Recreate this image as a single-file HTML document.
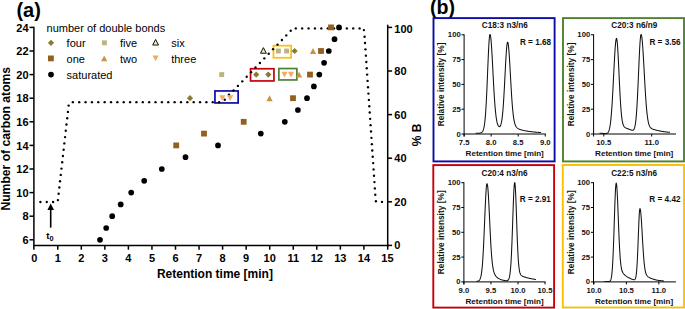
<!DOCTYPE html>
<html><head><meta charset="utf-8"><style>html,body{margin:0;padding:0;background:#fff;width:685px;height:309px;overflow:hidden}</style></head><body>
<svg width="685" height="309" viewBox="0 0 685 309" style="display:block;font-family:'Liberation Sans',sans-serif">
<rect width="685" height="309" fill="#fff"/>
<text x="16.4" y="16.8" font-size="20" font-weight="700">(a)</text>
<g stroke="#000" stroke-width="1.5" fill="none">
<path d="M33.9 26.65V249.70"/>
<path d="M33.15 245.4H388.45"/>
<path d="M387.7 24.7V249.70"/>
<path d="M29.50 239.80H33.9"/>
<path d="M29.50 216.20H33.9"/>
<path d="M29.50 192.60H33.9"/>
<path d="M29.50 169.00H33.9"/>
<path d="M29.50 145.40H33.9"/>
<path d="M29.50 121.80H33.9"/>
<path d="M29.50 98.20H33.9"/>
<path d="M29.50 74.60H33.9"/>
<path d="M29.50 51.00H33.9"/>
<path d="M29.50 27.40H33.9"/>
<path d="M57.75 245.4V249.70"/>
<path d="M81.30 245.4V249.70"/>
<path d="M104.85 245.4V249.70"/>
<path d="M128.40 245.4V249.70"/>
<path d="M151.95 245.4V249.70"/>
<path d="M175.50 245.4V249.70"/>
<path d="M199.05 245.4V249.70"/>
<path d="M222.60 245.4V249.70"/>
<path d="M246.15 245.4V249.70"/>
<path d="M269.70 245.4V249.70"/>
<path d="M293.25 245.4V249.70"/>
<path d="M316.80 245.4V249.70"/>
<path d="M340.35 245.4V249.70"/>
<path d="M363.90 245.4V249.70"/>
<path d="M387.7 245.40H392.10"/>
<path d="M387.7 201.80H392.10"/>
<path d="M387.7 158.20H392.10"/>
<path d="M387.7 114.60H392.10"/>
<path d="M387.7 71.00H392.10"/>
<path d="M387.7 27.40H392.10"/>
</g>
<g font-size="11" font-weight="700" fill="#000">
<text x="28.6" y="244.00" text-anchor="end">6</text>
<text x="28.6" y="220.40" text-anchor="end">8</text>
<text x="28.6" y="196.80" text-anchor="end">10</text>
<text x="28.6" y="173.20" text-anchor="end">12</text>
<text x="28.6" y="149.60" text-anchor="end">14</text>
<text x="28.6" y="126.00" text-anchor="end">16</text>
<text x="28.6" y="102.40" text-anchor="end">18</text>
<text x="28.6" y="78.80" text-anchor="end">20</text>
<text x="28.6" y="55.20" text-anchor="end">22</text>
<text x="28.6" y="31.60" text-anchor="end">24</text>
<text x="34.20" y="261.9" text-anchor="middle">0</text>
<text x="57.75" y="261.9" text-anchor="middle">1</text>
<text x="81.30" y="261.9" text-anchor="middle">2</text>
<text x="104.85" y="261.9" text-anchor="middle">3</text>
<text x="128.40" y="261.9" text-anchor="middle">4</text>
<text x="151.95" y="261.9" text-anchor="middle">5</text>
<text x="175.50" y="261.9" text-anchor="middle">6</text>
<text x="199.05" y="261.9" text-anchor="middle">7</text>
<text x="222.60" y="261.9" text-anchor="middle">8</text>
<text x="246.15" y="261.9" text-anchor="middle">9</text>
<text x="269.70" y="261.9" text-anchor="middle">10</text>
<text x="293.25" y="261.9" text-anchor="middle">11</text>
<text x="316.80" y="261.9" text-anchor="middle">12</text>
<text x="340.35" y="261.9" text-anchor="middle">13</text>
<text x="363.90" y="261.9" text-anchor="middle">14</text>
<text x="387.45" y="261.9" text-anchor="middle">15</text>
<text x="394.3" y="249.35">0</text>
<text x="394.3" y="205.75">20</text>
<text x="394.3" y="162.15">40</text>
<text x="394.3" y="118.55">60</text>
<text x="394.3" y="74.95">80</text>
<text x="394.3" y="32.95">100</text>
</g>
<text x="214.9" y="277.6" font-size="12" font-weight="700" text-anchor="middle">Retention time [min]</text>
<text transform="translate(9.5 138.75) rotate(-90)" font-size="12.15" font-weight="700" text-anchor="middle">Number of carbon atoms</text>
<text transform="translate(421 135) rotate(-90)" font-size="12" font-weight="700" text-anchor="middle">% B</text>
<rect x="214.95" y="90.95" width="23.20" height="12.00" fill="none" stroke="#0c0ca8" stroke-width="1.7"/>
<rect x="250.55" y="68.75" width="23.40" height="12.20" fill="none" stroke="#c8000a" stroke-width="1.7"/>
<rect x="278.85" y="68.55" width="18.00" height="11.40" fill="none" stroke="#4e8232" stroke-width="1.7"/>
<rect x="273.45" y="45.65" width="17.70" height="12.10" fill="none" stroke="#fdbf00" stroke-width="1.7"/>
<g fill="#000"><circle cx="40.40" cy="202.00" r="1.18"/><circle cx="46.75" cy="202.00" r="1.18"/><circle cx="53.10" cy="202.00" r="1.18"/><circle cx="57.90" cy="200.10" r="1.18"/><circle cx="58.62" cy="193.80" r="1.18"/><circle cx="59.33" cy="187.50" r="1.18"/><circle cx="60.05" cy="181.20" r="1.18"/><circle cx="60.76" cy="174.90" r="1.18"/><circle cx="61.48" cy="168.60" r="1.18"/><circle cx="62.19" cy="162.30" r="1.18"/><circle cx="62.91" cy="156.00" r="1.18"/><circle cx="63.62" cy="149.70" r="1.18"/><circle cx="64.34" cy="143.40" r="1.18"/><circle cx="65.05" cy="137.10" r="1.18"/><circle cx="65.77" cy="130.80" r="1.18"/><circle cx="66.48" cy="124.50" r="1.18"/><circle cx="67.20" cy="118.20" r="1.18"/><circle cx="67.91" cy="111.90" r="1.18"/><circle cx="68.63" cy="105.60" r="1.18"/><circle cx="72.85" cy="102.15" r="1.18"/><circle cx="79.21" cy="102.15" r="1.18"/><circle cx="85.57" cy="102.15" r="1.18"/><circle cx="91.93" cy="102.15" r="1.18"/><circle cx="98.29" cy="102.15" r="1.18"/><circle cx="104.65" cy="102.15" r="1.18"/><circle cx="111.01" cy="102.15" r="1.18"/><circle cx="117.37" cy="102.15" r="1.18"/><circle cx="123.73" cy="102.15" r="1.18"/><circle cx="130.09" cy="102.15" r="1.18"/><circle cx="136.45" cy="102.15" r="1.18"/><circle cx="142.81" cy="102.15" r="1.18"/><circle cx="149.17" cy="102.15" r="1.18"/><circle cx="155.53" cy="102.15" r="1.18"/><circle cx="161.89" cy="102.15" r="1.18"/><circle cx="168.25" cy="102.15" r="1.18"/><circle cx="174.61" cy="102.15" r="1.18"/><circle cx="180.97" cy="102.15" r="1.18"/><circle cx="187.33" cy="102.15" r="1.18"/><circle cx="193.69" cy="102.15" r="1.18"/><circle cx="200.05" cy="102.15" r="1.18"/><circle cx="206.41" cy="102.15" r="1.18"/><circle cx="212.77" cy="102.15" r="1.18"/><circle cx="219.13" cy="102.15" r="1.18"/><circle cx="224.80" cy="99.80" r="1.18"/><circle cx="229.00" cy="94.60" r="1.18"/><circle cx="233.50" cy="90.50" r="1.18"/><circle cx="237.90" cy="85.91" r="1.18"/><circle cx="242.30" cy="81.32" r="1.18"/><circle cx="246.70" cy="76.72" r="1.18"/><circle cx="251.10" cy="72.13" r="1.18"/><circle cx="255.50" cy="67.54" r="1.18"/><circle cx="259.90" cy="62.95" r="1.18"/><circle cx="264.30" cy="58.36" r="1.18"/><circle cx="268.70" cy="53.76" r="1.18"/><circle cx="273.10" cy="49.17" r="1.18"/><circle cx="277.50" cy="44.58" r="1.18"/><circle cx="281.90" cy="39.99" r="1.18"/><circle cx="286.30" cy="35.40" r="1.18"/><circle cx="290.70" cy="30.80" r="1.18"/><circle cx="295.80" cy="28.40" r="1.18"/><circle cx="302.18" cy="28.40" r="1.18"/><circle cx="308.56" cy="28.40" r="1.18"/><circle cx="314.94" cy="28.40" r="1.18"/><circle cx="321.32" cy="28.40" r="1.18"/><circle cx="327.70" cy="28.40" r="1.18"/><circle cx="334.08" cy="28.40" r="1.18"/><circle cx="340.46" cy="28.40" r="1.18"/><circle cx="346.84" cy="28.40" r="1.18"/><circle cx="353.22" cy="28.40" r="1.18"/><circle cx="359.60" cy="28.40" r="1.18"/><circle cx="363.90" cy="30.10" r="1.18"/><circle cx="364.60" cy="36.70" r="1.18"/><circle cx="365.03" cy="43.02" r="1.18"/><circle cx="365.45" cy="49.34" r="1.18"/><circle cx="365.88" cy="55.66" r="1.18"/><circle cx="366.31" cy="61.98" r="1.18"/><circle cx="366.74" cy="68.30" r="1.18"/><circle cx="367.16" cy="74.62" r="1.18"/><circle cx="367.59" cy="80.94" r="1.18"/><circle cx="368.02" cy="87.26" r="1.18"/><circle cx="368.45" cy="93.58" r="1.18"/><circle cx="368.87" cy="99.90" r="1.18"/><circle cx="369.30" cy="106.22" r="1.18"/><circle cx="369.73" cy="112.54" r="1.18"/><circle cx="370.15" cy="118.86" r="1.18"/><circle cx="370.58" cy="125.18" r="1.18"/><circle cx="371.01" cy="131.50" r="1.18"/><circle cx="371.44" cy="137.82" r="1.18"/><circle cx="371.86" cy="144.14" r="1.18"/><circle cx="372.29" cy="150.46" r="1.18"/><circle cx="372.72" cy="156.78" r="1.18"/><circle cx="373.14" cy="163.10" r="1.18"/><circle cx="373.57" cy="169.42" r="1.18"/><circle cx="374.00" cy="175.74" r="1.18"/><circle cx="374.43" cy="182.06" r="1.18"/><circle cx="374.85" cy="188.38" r="1.18"/><circle cx="375.28" cy="194.70" r="1.18"/><circle cx="375.90" cy="201.30" r="1.18"/><circle cx="382.00" cy="201.90" r="1.18"/></g>
<path d="M50.7 227.6V208" stroke="#000" stroke-width="1.6"/>
<path d="M50.7 203.4L54 210L47.4 210Z" fill="#000"/>
<text x="46.2" y="239.1" font-size="9.8" font-weight="700">t<tspan font-size="7.4" dy="1.8">0</tspan></text>
<circle cx="100.00" cy="239.80" r="2.85" fill="#000"/>
<circle cx="106.20" cy="228.00" r="2.85" fill="#000"/>
<circle cx="112.20" cy="216.20" r="2.85" fill="#000"/>
<circle cx="120.70" cy="204.40" r="2.85" fill="#000"/>
<circle cx="131.20" cy="192.60" r="2.85" fill="#000"/>
<circle cx="144.20" cy="180.80" r="2.85" fill="#000"/>
<circle cx="161.80" cy="169.00" r="2.85" fill="#000"/>
<circle cx="185.50" cy="157.20" r="2.85" fill="#000"/>
<circle cx="218.00" cy="145.40" r="2.85" fill="#000"/>
<circle cx="260.80" cy="133.60" r="2.85" fill="#000"/>
<circle cx="284.80" cy="121.80" r="2.85" fill="#000"/>
<circle cx="297.90" cy="110.00" r="2.85" fill="#000"/>
<circle cx="307.00" cy="98.20" r="2.85" fill="#000"/>
<circle cx="313.90" cy="86.40" r="2.85" fill="#000"/>
<circle cx="319.30" cy="74.60" r="2.85" fill="#000"/>
<circle cx="324.10" cy="62.80" r="2.85" fill="#000"/>
<circle cx="328.80" cy="51.00" r="2.85" fill="#000"/>
<circle cx="334.50" cy="39.20" r="2.85" fill="#000"/>
<circle cx="339.00" cy="27.40" r="2.85" fill="#000"/>
<rect x="173.30" y="142.50" width="5.8" height="5.8" fill="#93601f"/>
<rect x="201.10" y="130.70" width="5.8" height="5.8" fill="#93601f"/>
<rect x="240.80" y="118.90" width="5.8" height="5.8" fill="#93601f"/>
<rect x="290.10" y="95.30" width="5.8" height="5.8" fill="#93601f"/>
<rect x="307.10" y="71.70" width="5.8" height="5.8" fill="#93601f"/>
<rect x="318.10" y="48.10" width="5.8" height="5.8" fill="#93601f"/>
<rect x="328.10" y="24.50" width="5.8" height="5.8" fill="#93601f"/>
<path d="M269.60 95.25L272.70 101.15L266.50 101.15Z" fill="#cb9243"/>
<path d="M299.00 71.65L302.10 77.55L295.90 77.55Z" fill="#cb9243"/>
<path d="M313.00 48.05L316.10 53.95L309.90 53.95Z" fill="#cb9243"/>
<path d="M219.30 95.35L225.50 95.35L222.40 101.05Z" fill="#f4aa66"/>
<path d="M227.00 95.35L233.20 95.35L230.10 101.05Z" fill="#f4aa66"/>
<path d="M281.40 71.75L287.60 71.75L284.50 77.45Z" fill="#f4aa66"/>
<path d="M287.90 71.75L294.10 71.75L291.00 77.45Z" fill="#f4aa66"/>
<path d="M190.00 95.10L193.10 98.20L190.00 101.30L186.90 98.20Z" fill="#8a7a32"/>
<path d="M256.20 71.50L259.30 74.60L256.20 77.70L253.10 74.60Z" fill="#8a7a32"/>
<path d="M268.30 71.50L271.40 74.60L268.30 77.70L265.20 74.60Z" fill="#8a7a32"/>
<path d="M294.60 47.90L297.70 51.00L294.60 54.10L291.50 51.00Z" fill="#8a7a32"/>
<rect x="219.25" y="72.15" width="4.9" height="4.9" fill="#bcb383"/>
<rect x="275.95" y="48.55" width="4.9" height="4.9" fill="#bcb383"/>
<rect x="284.15" y="48.55" width="4.9" height="4.9" fill="#bcb383"/>
<path d="M263.40 47.64L266.30 53.24L260.50 53.24Z" fill="#f3e8c4" stroke="#111" stroke-width="1.0" stroke-linejoin="round"/>
<g font-size="11" fill="#000">
<text x="46.6" y="31.8">number of double bonds</text>
<path d="M51.00 39.70L54.10 42.80L51.00 45.90L47.90 42.80Z" fill="#8a7a32"/>
<text x="66.6" y="47.2">four</text>
<rect x="101.95" y="40.35" width="4.9" height="4.9" fill="#bcb383"/>
<text x="120" y="47.2">five</text>
<path d="M155.60 39.44L158.50 45.04L152.70 45.04Z" fill="#f3e8c4" stroke="#111" stroke-width="1.0" stroke-linejoin="round"/>
<text x="171.2" y="47.2">six</text>
<rect x="48.00" y="55.50" width="5.8" height="5.8" fill="#93601f"/>
<text x="66.6" y="63.2">one</text>
<path d="M104.20 55.45L107.30 61.35L101.10 61.35Z" fill="#cb9243"/>
<text x="120" y="63.2">two</text>
<path d="M152.50 55.55L158.70 55.55L155.60 61.25Z" fill="#f4aa66"/>
<text x="171.2" y="63.2">three</text>
<circle cx="51.00" cy="74.60" r="2.85" fill="#000"/>
<text x="66.6" y="79.2">saturated</text>
</g>
<text x="430.0" y="13.8" font-size="19.6" font-weight="700">(b)</text>
<rect x="433.50" y="18.10" width="121.10" height="143.30" fill="none" stroke="#0c0ca8" stroke-width="1.9"/>
<g stroke="#000" stroke-width="1" fill="none">
<path d="M464.10 34.30V136.50"/>
<path d="M461.50 134.00H545.80"/>
<path d="M461.50 109.20H464.10"/>
<path d="M461.50 84.40H464.10"/>
<path d="M461.50 59.60H464.10"/>
<path d="M461.50 34.80H464.10"/>
<path d="M464.10 134.00V136.50"/>
<path d="M491.15 134.00V136.50"/>
<path d="M518.20 134.00V136.50"/>
<path d="M545.25 134.00V136.50"/>
</g>
<g font-size="7.7" font-weight="700" fill="#111">
<text x="460.70" y="136.50" text-anchor="end">0</text>
<text x="460.70" y="111.70" text-anchor="end">25</text>
<text x="460.70" y="86.90" text-anchor="end">50</text>
<text x="460.70" y="62.10" text-anchor="end">75</text>
<text x="460.70" y="37.30" text-anchor="end">100</text>
<text x="464.10" y="145.30" text-anchor="middle">7.5</text>
<text x="491.15" y="145.30" text-anchor="middle">8.0</text>
<text x="518.20" y="145.30" text-anchor="middle">8.5</text>
<text x="545.25" y="145.30" text-anchor="middle">9.0</text>
</g>
<text x="504.80" y="28.10" font-size="8.2" font-weight="700" text-anchor="middle" fill="#111">C18:3 n3/n6</text>
<text x="551.10" y="44.90" font-size="8.2" font-weight="700" text-anchor="end" fill="#111">R = 1.68</text>
<text x="504.70" y="155.80" font-size="8.1" font-weight="700" text-anchor="middle" fill="#111">Retention time [min]</text>
<text transform="translate(444.30 84.40) rotate(-90)" font-size="8.35" font-weight="700" text-anchor="middle" fill="#111">Relative intensity [%]</text>
<path d="M475.70 133.30 L476.03 133.30 L476.37 133.30 L476.70 133.29 L477.04 133.29 L477.37 133.28 L477.71 133.27 L478.04 133.26 L478.38 133.24 L478.71 133.22 L479.05 133.19 L479.38 133.16 L479.72 133.11 L480.05 133.05 L480.39 132.97 L480.72 132.87 L481.06 132.74 L481.39 132.57 L481.73 132.35 L482.06 132.06 L482.40 131.68 L482.73 131.18 L483.07 130.51 L483.40 129.63 L483.74 128.47 L484.07 126.96 L484.41 125.02 L484.74 122.55 L485.08 119.45 L485.41 115.64 L485.75 111.06 L486.08 105.66 L486.42 99.46 L486.75 92.50 L487.09 84.92 L487.42 76.91 L487.76 68.72 L488.09 60.68 L488.43 53.14 L488.76 46.46 L489.09 40.99 L489.43 37.04 L489.76 34.83 L490.10 34.46 L490.43 35.45 L490.77 37.63 L491.10 40.91 L491.44 45.17 L491.77 50.25 L492.11 55.97 L492.44 62.13 L492.78 68.53 L493.11 74.99 L493.45 81.34 L493.78 87.43 L494.12 93.15 L494.45 98.42 L494.79 103.18 L495.12 107.41 L495.46 111.11 L495.79 114.29 L496.13 116.99 L496.46 119.25 L496.80 121.12 L497.13 122.64 L497.47 123.86 L497.80 124.82 L498.14 125.56 L498.47 126.10 L498.81 126.46 L499.14 126.65 L499.48 126.67 L499.81 126.52 L500.15 126.17 L500.48 125.60 L500.82 124.77 L501.15 123.64 L501.49 122.14 L501.82 120.23 L502.15 117.85 L502.49 114.93 L502.82 111.45 L503.16 107.36 L503.49 102.66 L503.83 97.38 L504.16 91.58 L504.50 85.37 L504.83 78.88 L505.17 72.29 L505.50 65.82 L505.84 59.70 L506.17 54.16 L506.51 49.45 L506.84 45.78 L507.18 43.31 L507.51 42.17 L507.85 42.37 L508.18 43.76 L508.52 46.28 L508.85 49.83 L509.19 54.25 L509.52 59.38 L509.86 65.02 L510.19 70.98 L510.53 77.06 L510.86 83.08 L511.20 88.88 L511.53 94.36 L511.87 99.40 L512.20 103.96 L512.54 108.01 L512.87 111.55 L513.21 114.59 L513.54 117.17 L513.88 119.33 L514.21 121.12 L514.55 122.59 L514.88 123.80 L515.21 124.78 L515.55 125.59 L515.88 126.25 L516.22 126.79 L516.55 127.24 L516.89 127.62 L517.22 127.94 L517.56 128.21 L517.89 128.45 L518.23 128.66 L518.56 128.85 L518.90 129.02 L519.23 129.17 L519.57 129.31 L519.90 129.44 L520.24 129.56 L520.57 129.67 L520.91 129.77 L521.24 129.87 L521.58 129.97 L521.91 130.06 L522.25 130.14 L522.58 130.23 L522.92 130.30 L523.25 130.38 L523.59 130.45 L523.92 130.53 L524.26 130.60 L524.59 130.66 L524.93 130.73 L525.26 130.79 L525.60 130.86 L525.93 130.92 L526.27 130.97 L526.60 131.03 L526.94 131.09 L527.27 131.14 L527.61 131.20 L527.94 131.25 L528.27 131.30 L528.61 131.35 L528.94 131.40 L529.28 131.44 L529.61 131.49 L529.95 131.53 L530.28 131.58 L530.62 131.62 L530.95 131.66 L531.29 131.70 L531.62 131.74 L531.96 131.78 L532.29 131.82 L532.63 131.85 L532.96 131.89 L533.30 131.92 L533.63 131.96 L533.97 131.99 L534.30 132.02 L534.64 132.05 L534.97 132.08 L535.31 132.11 L535.64 132.14 L535.98 132.17 L536.31 132.20 L536.65 132.23 L536.98 132.25 L537.32 132.28 L537.65 132.30 L537.99 132.33 L538.32 132.35 L538.66 132.37 L538.99 132.40 L539.33 132.42 L539.66 132.44 L540.00 132.46 L540.33 132.48 L540.67 132.50 L541.00 132.52" fill="none" stroke="#111" stroke-width="1.05" stroke-linejoin="round"/>
<rect x="563.00" y="18.10" width="121.00" height="143.30" fill="none" stroke="#4e8232" stroke-width="1.9"/>
<g stroke="#000" stroke-width="1" fill="none">
<path d="M593.60 34.30V136.50"/>
<path d="M591.00 134.00H676.00"/>
<path d="M591.00 109.20H593.60"/>
<path d="M591.00 84.40H593.60"/>
<path d="M591.00 59.60H593.60"/>
<path d="M591.00 34.80H593.60"/>
<path d="M603.80 134.00V136.50"/>
<path d="M651.70 134.00V136.50"/>
</g>
<g font-size="7.7" font-weight="700" fill="#111">
<text x="590.20" y="136.50" text-anchor="end">0</text>
<text x="590.20" y="111.70" text-anchor="end">25</text>
<text x="590.20" y="86.90" text-anchor="end">50</text>
<text x="590.20" y="62.10" text-anchor="end">75</text>
<text x="590.20" y="37.30" text-anchor="end">100</text>
<text x="603.80" y="145.30" text-anchor="middle">10.5</text>
<text x="651.70" y="145.30" text-anchor="middle">11.0</text>
</g>
<text x="634.30" y="28.10" font-size="8.2" font-weight="700" text-anchor="middle" fill="#111">C20:3 n6/n9</text>
<text x="680.60" y="44.90" font-size="8.2" font-weight="700" text-anchor="end" fill="#111">R = 3.56</text>
<text x="634.20" y="155.80" font-size="8.1" font-weight="700" text-anchor="middle" fill="#111">Retention time [min]</text>
<text transform="translate(573.80 84.40) rotate(-90)" font-size="8.35" font-weight="700" text-anchor="middle" fill="#111">Relative intensity [%]</text>
<path d="M599.50 133.28 L599.83 133.29 L600.17 133.30 L600.50 133.31 L600.84 133.32 L601.17 133.33 L601.50 133.34 L601.84 133.36 L602.17 133.37 L602.51 133.39 L602.84 133.40 L603.18 133.42 L603.51 133.44 L603.84 133.46 L604.18 133.47 L604.51 133.49 L604.85 133.50 L605.18 133.51 L605.51 133.51 L605.85 133.50 L606.18 133.47 L606.52 133.41 L606.85 133.32 L607.18 133.17 L607.52 132.96 L607.85 132.66 L608.19 132.24 L608.52 131.67 L608.86 130.91 L609.19 129.91 L609.52 128.63 L609.86 127.01 L610.19 124.99 L610.53 122.53 L610.86 119.57 L611.19 116.08 L611.53 112.03 L611.86 107.41 L612.20 102.24 L612.53 96.56 L612.86 90.44 L613.20 84.00 L613.53 77.36 L613.87 70.69 L614.20 64.16 L614.54 57.99 L614.87 52.36 L615.20 47.47 L615.54 43.50 L615.87 40.60 L616.21 38.88 L616.54 38.41 L616.87 39.39 L617.21 41.88 L617.54 45.77 L617.88 50.87 L618.21 56.92 L618.55 63.64 L618.88 70.75 L619.21 77.95 L619.55 84.99 L619.88 91.65 L620.22 97.79 L620.55 103.29 L620.88 108.09 L621.22 112.18 L621.55 115.60 L621.89 118.39 L622.22 120.64 L622.55 122.40 L622.89 123.78 L623.22 124.83 L623.56 125.64 L623.89 126.25 L624.23 126.72 L624.56 127.08 L624.89 127.37 L625.23 127.61 L625.56 127.81 L625.90 127.98 L626.23 128.14 L626.56 128.29 L626.90 128.43 L627.23 128.56 L627.57 128.70 L627.90 128.83 L628.23 128.96 L628.57 129.08 L628.90 129.21 L629.24 129.33 L629.57 129.46 L629.91 129.58 L630.24 129.70 L630.57 129.82 L630.91 129.93 L631.24 130.03 L631.58 130.12 L631.91 130.19 L632.24 130.24 L632.58 130.24 L632.91 130.17 L633.25 130.02 L633.58 129.75 L633.91 129.32 L634.25 128.67 L634.58 127.74 L634.92 126.46 L635.25 124.74 L635.59 122.51 L635.92 119.67 L636.25 116.15 L636.59 111.90 L636.92 106.89 L637.26 101.11 L637.59 94.61 L637.92 87.51 L638.26 79.95 L638.59 72.16 L638.93 64.38 L639.26 56.91 L639.59 50.06 L639.93 44.15 L640.26 39.45 L640.60 36.19 L640.93 34.56 L641.27 34.54 L641.60 35.66 L641.93 37.83 L642.27 40.97 L642.60 44.98 L642.94 49.74 L643.27 55.10 L643.60 60.89 L643.94 66.94 L644.27 73.11 L644.61 79.23 L644.94 85.17 L645.27 90.83 L645.61 96.12 L645.94 100.97 L646.28 105.34 L646.61 109.23 L646.95 112.63 L647.28 115.56 L647.61 118.05 L647.95 120.15 L648.28 121.89 L648.62 123.32 L648.95 124.49 L649.28 125.43 L649.62 126.19 L649.95 126.80 L650.29 127.29 L650.62 127.68 L650.95 128.01 L651.29 128.27 L651.62 128.50 L651.96 128.69 L652.29 128.86 L652.63 129.01 L652.96 129.14 L653.29 129.27 L653.63 129.38 L653.96 129.49 L654.30 129.60 L654.63 129.70 L654.96 129.80 L655.30 129.90 L655.63 129.99 L655.97 130.08 L656.30 130.17 L656.64 130.25 L656.97 130.34 L657.30 130.42 L657.64 130.50 L657.97 130.57 L658.31 130.65 L658.64 130.72 L658.97 130.79 L659.31 130.86 L659.64 130.93 L659.98 131.00 L660.31 131.06 L660.64 131.12 L660.98 131.19 L661.31 131.25 L661.65 131.30 L661.98 131.36 L662.32 131.41 L662.65 131.47 L662.98 131.52 L663.32 131.57 L663.65 131.62 L663.99 131.67 L664.32 131.71 L664.65 131.76 L664.99 131.80 L665.32 131.85 L665.66 131.89 L665.99 131.93 L666.32 131.97 L666.66 132.00 L666.99 132.04 L667.33 132.08 L667.66 132.11 L668.00 132.15 L668.33 132.18 L668.66 132.21 L669.00 132.24 L669.33 132.27 L669.67 132.30 L670.00 132.33" fill="none" stroke="#111" stroke-width="1.05" stroke-linejoin="round"/>
<rect x="433.30" y="165.10" width="120.80" height="142.50" fill="none" stroke="#c8000a" stroke-width="1.9"/>
<g stroke="#000" stroke-width="1" fill="none">
<path d="M463.90 182.20V284.40"/>
<path d="M461.30 281.90H545.50"/>
<path d="M461.30 257.10H463.90"/>
<path d="M461.30 232.30H463.90"/>
<path d="M461.30 207.50H463.90"/>
<path d="M461.30 182.70H463.90"/>
<path d="M463.90 281.90V284.40"/>
<path d="M490.95 281.90V284.40"/>
<path d="M518.00 281.90V284.40"/>
<path d="M545.05 281.90V284.40"/>
</g>
<g font-size="7.7" font-weight="700" fill="#111">
<text x="460.50" y="284.40" text-anchor="end">0</text>
<text x="460.50" y="259.60" text-anchor="end">25</text>
<text x="460.50" y="234.80" text-anchor="end">50</text>
<text x="460.50" y="210.00" text-anchor="end">75</text>
<text x="460.50" y="185.20" text-anchor="end">100</text>
<text x="463.90" y="293.20" text-anchor="middle">9.0</text>
<text x="490.95" y="293.20" text-anchor="middle">9.5</text>
<text x="518.00" y="293.20" text-anchor="middle">10.0</text>
<text x="545.05" y="293.20" text-anchor="middle">10.5</text>
</g>
<text x="504.60" y="176.40" font-size="8.2" font-weight="700" text-anchor="middle" fill="#111">C20:4 n3/n6</text>
<text x="550.90" y="201.70" font-size="8.2" font-weight="700" text-anchor="end" fill="#111">R = 2.91</text>
<text x="504.50" y="303.70" font-size="8.1" font-weight="700" text-anchor="middle" fill="#111">Retention time [min]</text>
<text transform="translate(444.10 232.30) rotate(-90)" font-size="8.35" font-weight="700" text-anchor="middle" fill="#111">Relative intensity [%]</text>
<path d="M476.50 281.35 L476.83 281.33 L477.17 281.30 L477.50 281.25 L477.84 281.18 L478.17 281.08 L478.51 280.93 L478.84 280.73 L479.17 280.46 L479.51 280.08 L479.84 279.56 L480.18 278.86 L480.51 277.93 L480.85 276.70 L481.18 275.10 L481.51 273.04 L481.85 270.44 L482.18 267.20 L482.52 263.25 L482.85 258.51 L483.19 252.98 L483.52 246.64 L483.85 239.59 L484.19 231.96 L484.52 223.94 L484.86 215.81 L485.19 207.90 L485.53 200.56 L485.86 194.17 L486.19 189.06 L486.53 185.52 L486.86 183.77 L487.20 183.82 L487.53 185.29 L487.87 188.17 L488.20 192.38 L488.53 197.73 L488.87 204.00 L489.20 210.89 L489.54 218.09 L489.87 225.31 L490.21 232.30 L490.54 238.86 L490.87 244.85 L491.21 250.18 L491.54 254.82 L491.88 258.80 L492.21 262.14 L492.54 264.93 L492.88 267.22 L493.21 269.10 L493.55 270.64 L493.88 271.90 L494.22 272.94 L494.55 273.80 L494.88 274.52 L495.22 275.13 L495.55 275.66 L495.89 276.11 L496.22 276.52 L496.56 276.87 L496.89 277.20 L497.22 277.49 L497.56 277.75 L497.89 278.00 L498.23 278.23 L498.56 278.44 L498.90 278.63 L499.23 278.81 L499.56 278.98 L499.90 279.14 L500.23 279.29 L500.57 279.42 L500.90 279.55 L501.24 279.67 L501.57 279.79 L501.90 279.89 L502.24 279.99 L502.57 280.08 L502.91 280.17 L503.24 280.25 L503.58 280.32 L503.91 280.39 L504.24 280.45 L504.58 280.51 L504.91 280.57 L505.25 280.61 L505.58 280.65 L505.92 280.68 L506.25 280.70 L506.58 280.70 L506.92 280.67 L507.25 280.60 L507.59 280.47 L507.92 280.26 L508.26 279.94 L508.59 279.45 L508.92 278.74 L509.26 277.71 L509.59 276.25 L509.93 274.25 L510.26 271.56 L510.60 268.00 L510.93 263.45 L511.26 257.78 L511.60 250.93 L511.93 242.96 L512.27 234.01 L512.60 224.40 L512.94 214.56 L513.27 205.06 L513.60 196.52 L513.94 189.58 L514.27 184.78 L514.61 182.54 L514.94 183.09 L515.28 186.56 L515.61 192.62 L515.94 200.71 L516.28 210.11 L516.61 220.06 L516.95 229.87 L517.28 239.00 L517.62 247.08 L517.95 253.91 L518.28 259.48 L518.62 263.87 L518.95 267.22 L519.29 269.72 L519.62 271.55 L519.96 272.88 L520.29 273.83 L520.62 274.52 L520.96 275.02 L521.29 275.39 L521.63 275.68 L521.96 275.91 L522.29 276.10 L522.63 276.26 L522.96 276.41 L523.30 276.54 L523.63 276.67 L523.97 276.79 L524.30 276.90 L524.63 277.01 L524.97 277.12 L525.30 277.22 L525.64 277.33 L525.97 277.43 L526.31 277.52 L526.64 277.62 L526.97 277.71 L527.31 277.80 L527.64 277.89 L527.98 277.97 L528.31 278.06 L528.65 278.14 L528.98 278.22 L529.31 278.29 L529.65 278.37 L529.98 278.44 L530.32 278.51 L530.65 278.58 L530.99 278.65 L531.32 278.72 L531.65 278.78 L531.99 278.85 L532.32 278.91 L532.66 278.97 L532.99 279.03 L533.33 279.09 L533.66 279.14 L533.99 279.20 L534.33 279.25 L534.66 279.30 L535.00 279.35 L535.33 279.40 L535.67 279.45 L536.00 279.50" fill="none" stroke="#111" stroke-width="1.05" stroke-linejoin="round"/>
<rect x="562.80" y="165.00" width="121.20" height="142.50" fill="none" stroke="#fdbf00" stroke-width="1.9"/>
<g stroke="#000" stroke-width="1" fill="none">
<path d="M593.50 182.20V284.40"/>
<path d="M590.90 281.90H675.90"/>
<path d="M590.90 257.10H593.50"/>
<path d="M590.90 232.30H593.50"/>
<path d="M590.90 207.50H593.50"/>
<path d="M590.90 182.70H593.50"/>
<path d="M593.95 281.90V284.40"/>
<path d="M626.40 281.90V284.40"/>
<path d="M658.85 281.90V284.40"/>
</g>
<g font-size="7.7" font-weight="700" fill="#111">
<text x="590.10" y="284.40" text-anchor="end">0</text>
<text x="590.10" y="259.60" text-anchor="end">25</text>
<text x="590.10" y="234.80" text-anchor="end">50</text>
<text x="590.10" y="210.00" text-anchor="end">75</text>
<text x="590.10" y="185.20" text-anchor="end">100</text>
<text x="593.95" y="293.20" text-anchor="middle">10.0</text>
<text x="626.40" y="293.20" text-anchor="middle">10.5</text>
<text x="658.85" y="293.20" text-anchor="middle">11.0</text>
</g>
<text x="634.20" y="176.40" font-size="8.2" font-weight="700" text-anchor="middle" fill="#111">C22:5 n3/n6</text>
<text x="680.50" y="201.70" font-size="8.2" font-weight="700" text-anchor="end" fill="#111">R = 4.42</text>
<text x="634.10" y="303.70" font-size="8.1" font-weight="700" text-anchor="middle" fill="#111">Retention time [min]</text>
<text transform="translate(573.70 232.30) rotate(-90)" font-size="8.35" font-weight="700" text-anchor="middle" fill="#111">Relative intensity [%]</text>
<path d="M604.50 281.52 L604.83 281.52 L605.17 281.52 L605.50 281.53 L605.84 281.53 L606.17 281.54 L606.51 281.55 L606.84 281.55 L607.17 281.56 L607.51 281.57 L607.84 281.58 L608.18 281.59 L608.51 281.59 L608.85 281.57 L609.18 281.53 L609.51 281.44 L609.85 281.27 L610.18 280.97 L610.52 280.47 L610.85 279.68 L611.19 278.46 L611.52 276.66 L611.85 274.09 L612.19 270.57 L612.52 265.92 L612.86 260.00 L613.19 252.77 L613.53 244.28 L613.86 234.74 L614.19 224.53 L614.53 214.18 L614.86 204.32 L615.20 195.66 L615.53 188.88 L615.87 184.53 L616.20 183.00 L616.53 184.06 L616.87 187.29 L617.20 192.50 L617.54 199.33 L617.87 207.30 L618.21 215.90 L618.54 224.62 L618.87 233.01 L619.21 240.73 L619.54 247.55 L619.88 253.35 L620.21 258.14 L620.54 261.97 L620.88 264.97 L621.21 267.26 L621.55 269.00 L621.88 270.31 L622.22 271.31 L622.55 272.09 L622.88 272.71 L623.22 273.23 L623.55 273.67 L623.89 274.06 L624.22 274.42 L624.56 274.75 L624.89 275.06 L625.22 275.36 L625.56 275.64 L625.89 275.91 L626.23 276.16 L626.56 276.41 L626.90 276.64 L627.23 276.86 L627.56 277.08 L627.90 277.28 L628.23 277.48 L628.57 277.66 L628.90 277.84 L629.24 278.01 L629.57 278.18 L629.90 278.33 L630.24 278.48 L630.57 278.63 L630.91 278.77 L631.24 278.90 L631.58 279.03 L631.91 279.15 L632.24 279.27 L632.58 279.38 L632.91 279.49 L633.25 279.59 L633.58 279.67 L633.92 279.73 L634.25 279.73 L634.58 279.65 L634.92 279.42 L635.25 278.94 L635.59 278.09 L635.92 276.68 L636.26 274.52 L636.59 271.37 L636.92 267.04 L637.26 261.41 L637.59 254.47 L637.93 246.44 L638.26 237.72 L638.60 228.93 L638.93 220.86 L639.26 214.31 L639.60 210.02 L639.93 208.49 L640.27 209.15 L640.60 211.12 L640.94 214.31 L641.27 218.55 L641.60 223.61 L641.94 229.20 L642.27 235.06 L642.61 240.91 L642.94 246.53 L643.28 251.74 L643.61 256.41 L643.94 260.48 L644.28 263.93 L644.61 266.78 L644.95 269.09 L645.28 270.93 L645.62 272.36 L645.95 273.48 L646.28 274.34 L646.62 275.01 L646.95 275.53 L647.29 275.95 L647.62 276.30 L647.96 276.59 L648.29 276.85 L648.62 277.08 L648.96 277.29 L649.29 277.48 L649.63 277.67 L649.96 277.84 L650.29 278.00 L650.63 278.16 L650.96 278.31 L651.30 278.45 L651.63 278.59 L651.97 278.72 L652.30 278.85 L652.63 278.97 L652.97 279.08 L653.30 279.19 L653.64 279.30 L653.97 279.40 L654.31 279.49 L654.64 279.58 L654.97 279.67 L655.31 279.75 L655.64 279.83 L655.98 279.91 L656.31 279.98 L656.65 280.05 L656.98 280.12 L657.31 280.18 L657.65 280.24 L657.98 280.30 L658.32 280.36 L658.65 280.41 L658.99 280.46 L659.32 280.51 L659.65 280.55 L659.99 280.60 L660.32 280.64 L660.66 280.68 L660.99 280.71 L661.33 280.75 L661.66 280.79 L661.99 280.82 L662.33 280.85 L662.66 280.88 L663.00 280.91 L663.33 280.94 L663.67 280.96 L664.00 280.99" fill="none" stroke="#111" stroke-width="1.05" stroke-linejoin="round"/>
</svg>
</body></html>
